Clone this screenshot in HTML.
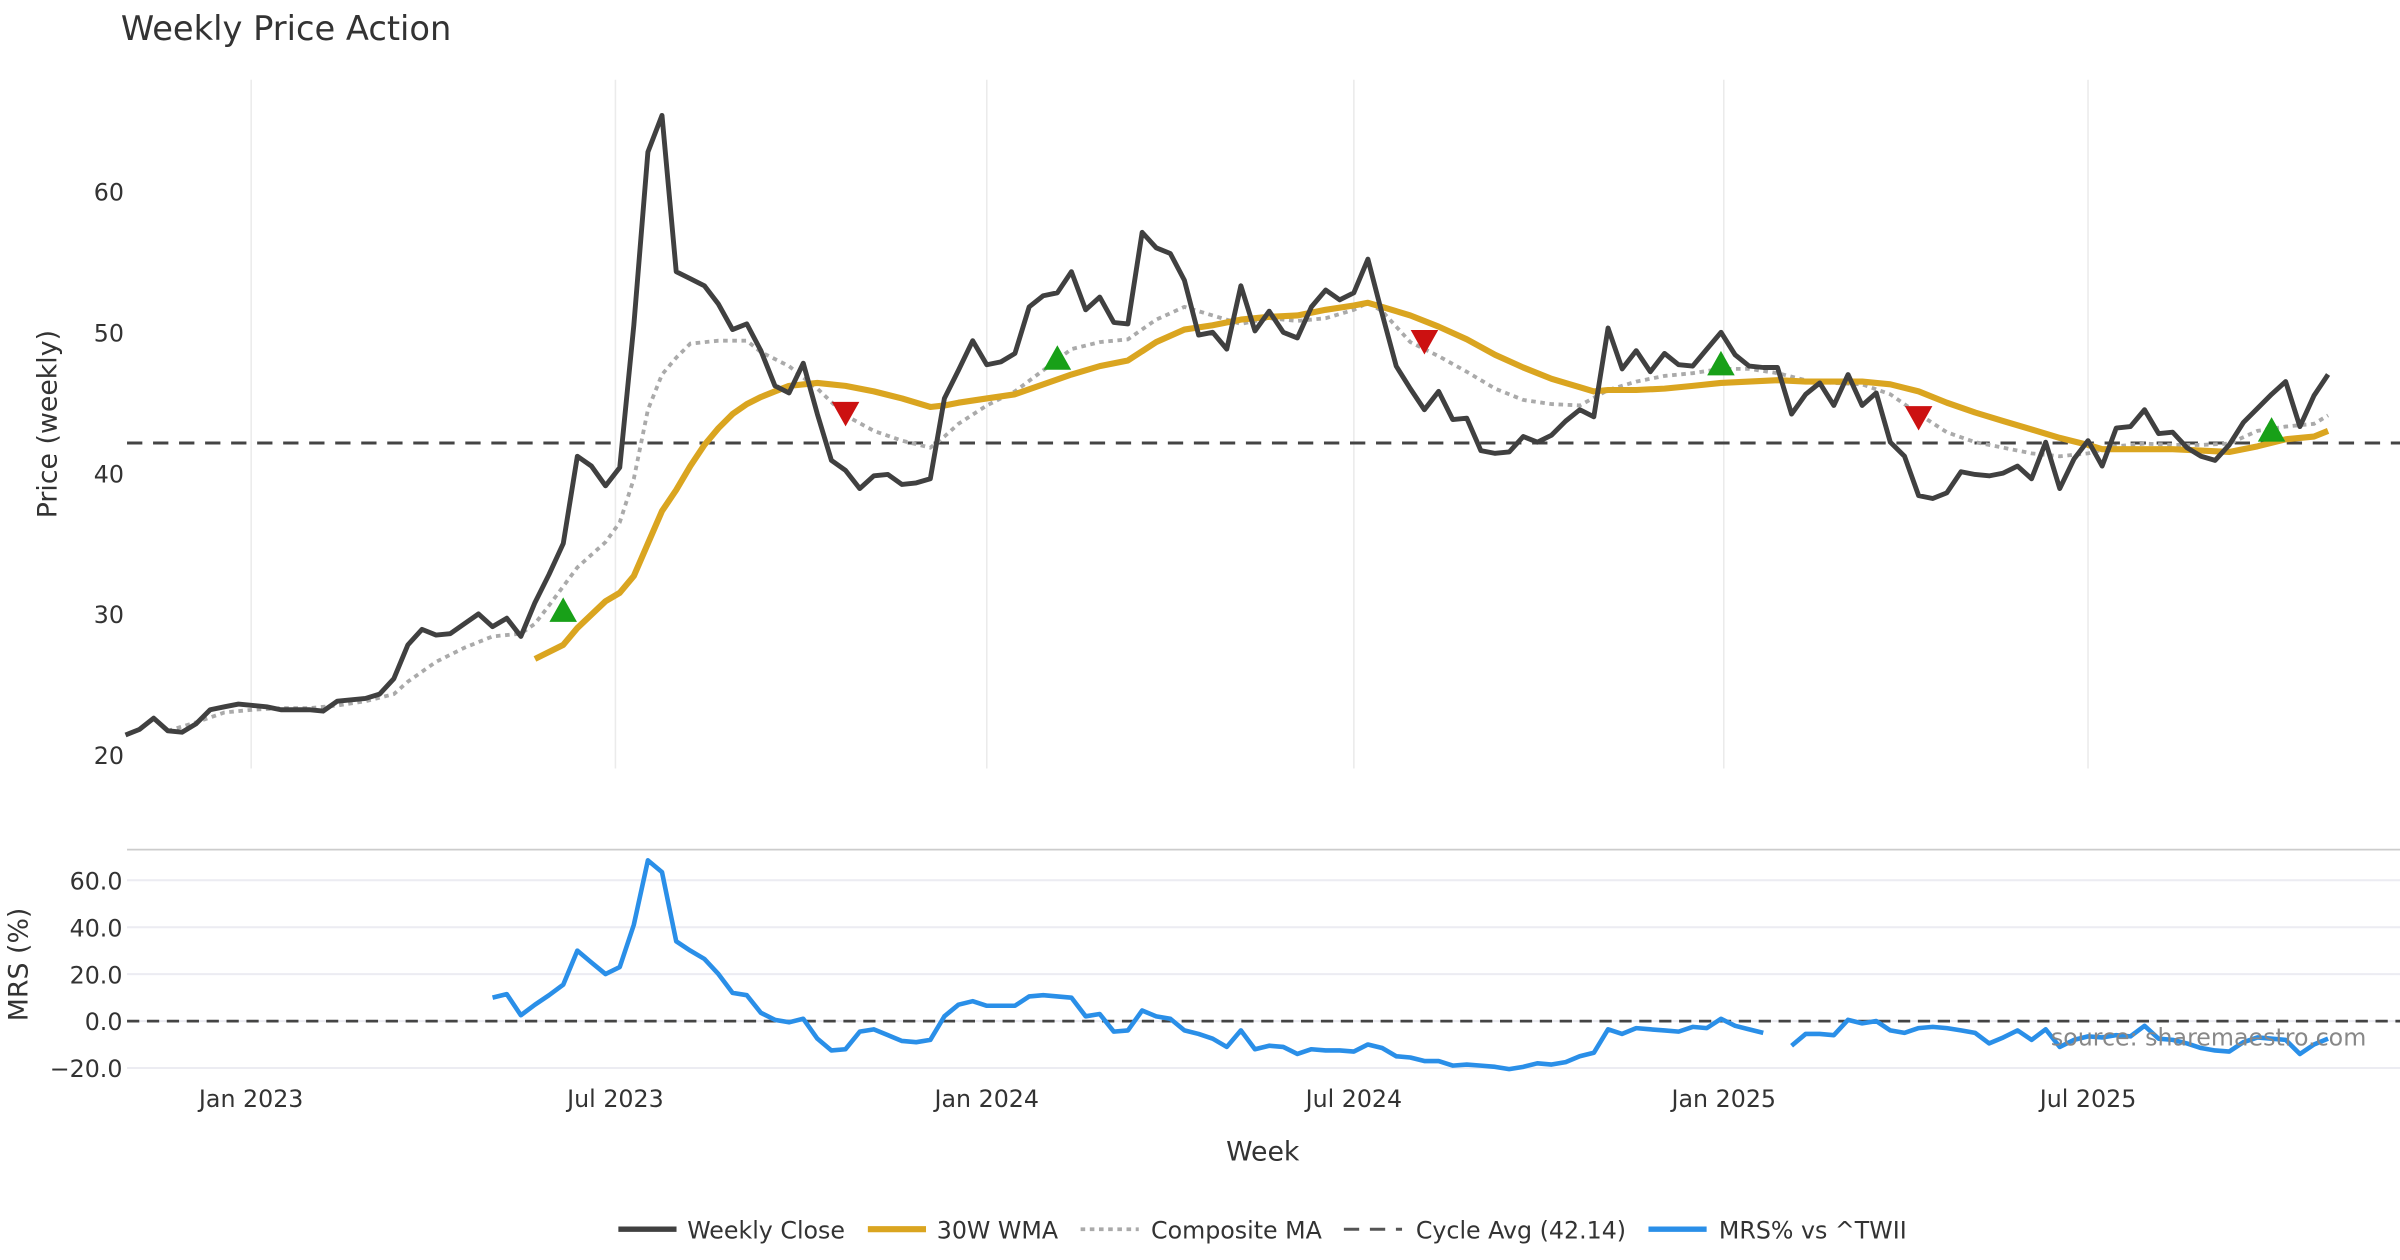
<!DOCTYPE html>
<html><head><meta charset="utf-8"><style>
html,body{margin:0;padding:0;background:#fff;}
svg{display:block;font-family:"DejaVu Sans","Liberation Sans",sans-serif;}
</style></head><body>
<svg id="chart" width="2400" height="1260" viewBox="0 0 1568 823" xmlns="http://www.w3.org/2000/svg">
<text x="79" y="26" font-size="22" fill="#333">Weekly Price Action</text>
<text transform="translate(37,277) rotate(-90)" text-anchor="middle" font-size="17.5" fill="#333">Price (weekly)</text>
<text transform="translate(18,630) rotate(-90)" text-anchor="middle" font-size="17.5" fill="#333">MRS (%)</text>
<text x="825" y="758" text-anchor="middle" font-size="17.5" fill="#333">Week</text>
<line x1="83" y1="555" x2="1568" y2="555" stroke="#ccc" stroke-width="1.2"/>
<g id="grid"></g><g id="series"></g><g id="axes"></g>
<text x="1546" y="683" text-anchor="end" font-size="15.5" fill="#888">source: sharemaestro.com</text>
<g id="legend">
<line x1="404" y1="803" x2="442" y2="803" stroke="#404040" stroke-width="3.5"/>
<text x="449" y="809" font-size="15.5" fill="#333">Weekly Close</text>
<line x1="567" y1="803" x2="605" y2="803" stroke="#DAA520" stroke-width="4"/>
<text x="612" y="809" font-size="15.5" fill="#333">30W WMA</text>
<line x1="706" y1="803" x2="744" y2="803" stroke="#aaa" stroke-width="2.5" stroke-dasharray="3,3"/>
<text x="752" y="809" font-size="15.5" fill="#333">Composite MA</text>
<line x1="878" y1="803" x2="916" y2="803" stroke="#555" stroke-width="2" stroke-dasharray="10,7"/>
<text x="925" y="809" font-size="15.5" fill="#333">Cycle Avg (42.14)</text>
<line x1="1077" y1="803" x2="1115" y2="803" stroke="#2A8FE8" stroke-width="3.5"/>
<text x="1123" y="809" font-size="15.5" fill="#333">MRS% vs ^TWII</text>
</g>
</svg>
<script>
const closeVals=[21.4,21.8,22.6,21.7,21.6,22.2,23.2,23.4,23.6,23.5,23.4,23.2,23.2,23.2,23.1,23.8,23.9,24.0,24.3,25.4,27.8,28.9,28.5,28.6,29.3,30.0,29.1,29.7,28.4,30.8,32.8,35.0,41.2,40.5,39.1,40.4,50.5,62.8,65.4,54.3,53.8,53.3,52.0,50.2,50.6,48.7,
46.2,45.7,47.8,44.2,40.9,40.2,38.9,39.8,39.9,39.2,39.3,39.6,45.3,47.3,49.4,47.7,47.9,48.5,51.8,52.6,52.8,54.3,51.6,52.5,50.7,50.6,57.1,56.0,55.6,53.7,49.8,50.0,48.8,53.3,50.1,51.5,50.0,49.6,51.8,53.0,52.3,52.8,55.2,51.3,47.6,46.0,44.5,45.8,43.8,43.9,41.6,41.4,41.5,42.6,42.2,42.7,43.7,44.5,44.0,50.3,47.4,48.7,47.2,48.5,47.7,47.6,48.8,50.0,48.4,47.6,47.5,47.5,44.2,45.6,46.4,44.8,47.0,44.8,45.7,42.2,41.2,38.4,38.2,38.6,40.1,39.9,39.8,40.0,40.5,39.6,42.2,38.9,41.0,42.3,40.5,43.2,43.3,44.5,42.8,42.9,41.8,41.2,40.9,42.0,43.6,44.6,45.6,46.5,43.3,45.5,47.0];
const wmaWeeks=[29,31,32,34,35,36,37,38,39,40,41,42,43,44,45,46,47,49,51,53,55,57,58,59,61,63,65,67,69,71,73,75,77,79,81,83,85,87,88,89,91,93,95,97,99,101,103,104,105,107,109,111,113,115,117,119,121,123,125,127,129,131,133,135,137,139,140,141,143,145,147,149,151,153,155,156];
const wmaVals=[26.8,27.8,29.0,30.9,31.5,32.7,35.0,37.3,38.8,40.5,42.0,43.2,44.2,44.9,45.4,45.8,46.2,46.4,46.2,45.8,45.3,44.7,44.8,45.0,45.3,45.6,46.3,47.0,47.6,48.0,49.3,50.2,50.5,50.9,51.1,51.2,51.6,51.9,52.1,51.8,51.2,50.4,49.5,48.4,47.5,46.7,46.1,45.8,45.9,45.9,46.0,46.2,46.4,46.5,46.6,46.5,46.5,46.5,46.3,45.8,45.0,44.3,43.7,43.1,42.5,42.0,41.7,41.7,41.7,41.7,41.6,41.5,41.9,42.4,42.6,43.0];
const compWeeks=[3,5,7,9,11,13,15,17,19,20,22,24,26,28,29,30,32,34,35,36,37,38,39,40,42,44,45,47,49,51,53,55,57,58,59,61,63,65,67,69,71,73,75,77,79,81,83,85,87,88,89,91,93,95,97,99,101,103,105,107,109,111,113,115,117,119,121,123,125,127,129,131,133,135,137,139,141,143,145,147,149,151,153,155,156];
const compVals=[21.7,22.3,23.0,23.2,23.3,23.3,23.5,23.8,24.3,25.2,26.6,27.6,28.4,28.6,29.3,30.6,33.3,35.1,36.5,39.6,44.5,47.0,48.2,49.2,49.4,49.4,48.6,47.6,46.0,44.1,43.0,42.3,41.8,42.6,43.5,44.8,45.8,47.3,48.8,49.3,49.5,50.9,51.8,51.2,50.6,51.0,50.8,51.0,51.6,52.1,51.5,49.3,48.3,47.2,46.0,45.2,44.9,44.8,45.9,46.5,46.9,47.1,47.4,47.4,47.1,46.6,46.4,46.3,45.6,44.2,42.9,42.2,41.8,41.4,41.2,41.4,41.9,42.1,42.0,42.0,42.1,43.0,43.3,43.5,44.1];
const buyWeeks=[31,66,113,152];
const buyVals=[30.2,48.1,47.7,43.0];
const sellWeeks=[51,92,127];
const sellVals=[44.3,49.4,44.0];
const cycleAvg=42.14;
const mrsStart=26;
const mrsVals=[10,11.5,2.5,7,11,15.5,30,25,20,23,41,68.5,63.5,34,30,26.5,20,12,11,3.5,0.5,-0.5,1,-7.5,-12.5,-12,-4.5,-3.5,-6,-8.5,-9,-8,2,7,8.5,6.5,6.5,6.5,10.5,11,10.5,10,2,3,-4.5,-4,4.5,2,1,-4,-5.5,-7.5,-11,-4,-12,-10.5,-11,-14,-12,-12.5,-12.5,-13,-10,-11.5,-15,-15.5,-17,-17,-19,-18.5,-19,-19.5,-20.5,-19.5,-18,-18.5,-17.5,-15,-13.5,-3.5,-5.5,-3,-3.5,-4,-4.5,-2.5,-3,1,-2,-3.5,-5,null,-10.5,-5.5,-5.5,-6,0.5,-1,0,-4,-5,-3,-2.5,-3,-4,-5,-9.5,-7,-4,-8,-3.5,-11,-8,-6.5,-7,-6,-6.5,-2,-7.5,-8,-9.5,-11.5,-12.5,-13,-9,-7,-7.5,-8,-14,-10,-7.5];
const priceTicks=[20,30,40,50,60];
const mrsTicks=[60,40,20,0,-20];
const dateTickWeeks=[8.9,34.7,61.0,87.0,113.2,139.0];
const dateTickLabels=["Jan 2023","Jul 2023","Jan 2024","Jul 2024","Jan 2025","Jul 2025"];

const NS="http://www.w3.org/2000/svg";
const X0=82,X1=1521,NW=156;
const xS=w=>X0+w*(X1-X0)/NW;
const yP=v=>493-(v-20)*9.2;
const yM=v=>667-v*1.533;
function mk(tag,attrs,parent){const e=document.createElementNS(NS,tag);for(const k in attrs)e.setAttribute(k,attrs[k]);parent.appendChild(e);return e;}
const grid=document.getElementById('grid'),series=document.getElementById('series'),axes=document.getElementById('axes');

dateTickWeeks.forEach((w,i)=>{
  const x=xS(w);
  const g1=mk('line',{x1:x,y1:52,x2:x,y2:502,stroke:'#ebebeb','stroke-width':1},grid);
  
  
  const t=mk('text',{x:x,y:723,'text-anchor':'middle','font-size':15.5,fill:'#333'},axes);
  t.textContent=dateTickLabels[i];
  
  
});
priceTicks.forEach(v=>{
  const t=mk('text',{x:81,y:yP(v)+6,'text-anchor':'end','font-size':15.5,fill:'#333'},axes);
  t.textContent=v;
  
  
});
mrsTicks.forEach(v=>{
  const g=mk('line',{x1:83,y1:yM(v),x2:1568,y2:yM(v),stroke:'#ececf2','stroke-width':1.3},grid);
  
  
  const t=mk('text',{x:80,y:yM(v)+6,'text-anchor':'end','font-size':15.5,fill:'#333'},axes);
  t.textContent=(v<0?'\u2212'+Math.abs(v).toFixed(1):v.toFixed(1));
  
  
});

function path(pts){let d='',pen=false;pts.forEach(p=>{if(p==null){pen=false;return;}d+=(pen?'L':'M')+p[0].toFixed(1)+','+p[1].toFixed(1);pen=true;});return d;}

const ca=mk('line',{x1:83,y1:yP(cycleAvg),x2:1568,y2:yP(cycleAvg),stroke:'#444','stroke-width':2,'stroke-dasharray':'10,7'},series);


const z=mk('line',{x1:83,y1:yM(0),x2:1568,y2:yM(0),stroke:'#444','stroke-width':1.8,'stroke-dasharray':'8,5'},series);



const cp=mk('path',{d:path(compWeeks.map((w,i)=>[xS(w),yP(compVals[i])])),fill:'none',stroke:'#aaa','stroke-width':2.5,'stroke-dasharray':'3,3'},series);


const wp=mk('path',{d:path(wmaWeeks.map((w,i)=>[xS(w),yP(wmaVals[i])])),fill:'none',stroke:'#DAA520','stroke-width':4,'stroke-linejoin':'round'},series);


const cl=mk('path',{d:path(closeVals.map((v,i)=>[xS(i),yP(v)])),fill:'none',stroke:'#404040','stroke-width':3.2,'stroke-linejoin':'round'},series);



buyWeeks.forEach((w,i)=>{
  const x=xS(w),y=yP(buyVals[i]);
  const t=mk('polygon',{points:`${x-9},${y+7} ${x+9},${y+7} ${x},${y-9}`,fill:'#18a018'},series);
  
  
});
sellWeeks.forEach((w,i)=>{
  const x=xS(w),y=yP(sellVals[i]);
  const t=mk('polygon',{points:`${x-9},${y-7} ${x+9},${y-7} ${x},${y+9}`,fill:'#cc1111'},series);
  
  
});

const mp=mk('path',{d:path(mrsVals.map((v,i)=>v==null?null:[xS(mrsStart+i),yM(v)])),fill:'none',stroke:'#2A8FE8','stroke-width':3,'stroke-linejoin':'round'},series);


</script>
</body></html>
